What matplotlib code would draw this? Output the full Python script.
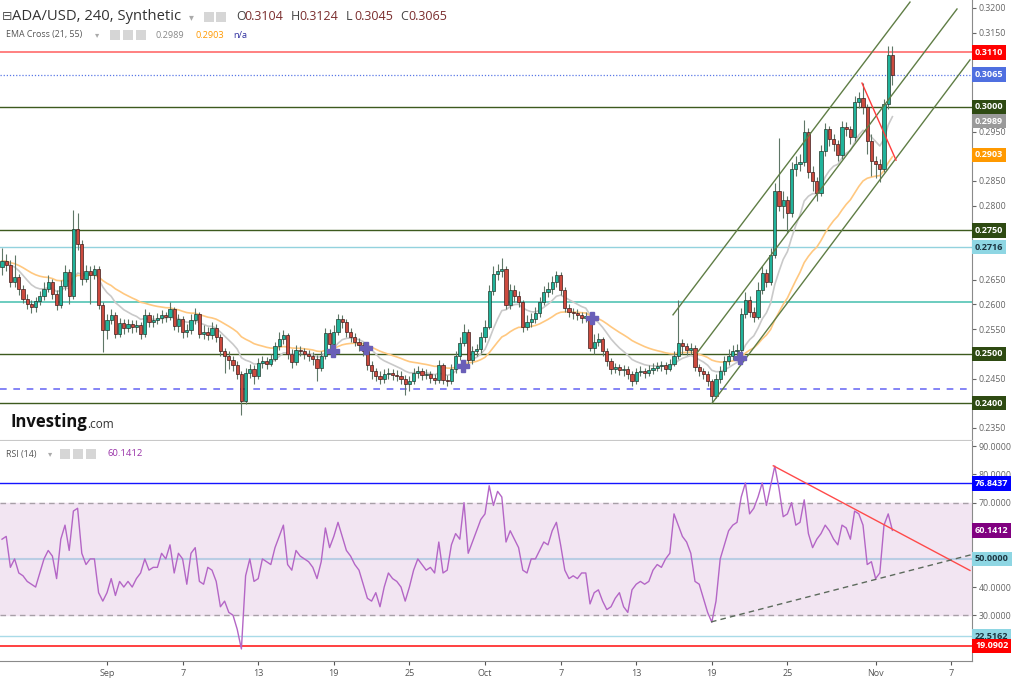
import numpy as np
import pandas as pd
import matplotlib
matplotlib.use('Agg')
import matplotlib.pyplot as plt
import matplotlib.transforms as mtransforms
from matplotlib.patches import Rectangle

plt.rcParams['font.family'] = ['Open Sans', 'DejaVu Sans']

# ---- data (8h candles, x = days from Sep 1) ----
first_open = 0.2675
closes = [0.2688, 0.2680, 0.2645, 0.2655, 0.2632, 0.2612, 0.2600, 0.2594, 0.2606, 0.2618,
          0.2632, 0.2645, 0.2622, 0.2598, 0.2638, 0.2665, 0.2618, 0.2752, 0.2722, 0.2652,
          0.2668, 0.2660, 0.2672, 0.2598, 0.2548, 0.2568, 0.2578, 0.2540, 0.2562, 0.2552,
          0.2560, 0.2555, 0.2558, 0.2540, 0.2578, 0.2565, 0.2568, 0.2572, 0.2578, 0.2575,
          0.2590, 0.2556, 0.2570, 0.2545, 0.2548, 0.2568, 0.2580, 0.2540, 0.2545, 0.2538,
          0.2552, 0.2535, 0.2505, 0.2495, 0.2488, 0.2478, 0.2460, 0.2405, 0.2462, 0.2470,
          0.2455, 0.2482, 0.2486, 0.2480, 0.2490, 0.2515, 0.2530, 0.2538, 0.2500, 0.2484,
          0.2508, 0.2505, 0.2500, 0.2495, 0.2490, 0.2472, 0.2495, 0.2542, 0.2520, 0.2545,
          0.2570, 0.2565, 0.2545, 0.2535, 0.2525, 0.2518, 0.2505, 0.2478, 0.2465, 0.2455,
          0.2450, 0.2460, 0.2462, 0.2458, 0.2455, 0.2450, 0.2440, 0.2445, 0.2462, 0.2465,
          0.2458, 0.2460, 0.2452, 0.2448, 0.2478, 0.2448, 0.2445, 0.2470, 0.2495, 0.2522,
          0.2545, 0.2488, 0.2505, 0.2510, 0.2535, 0.2555, 0.2628, 0.2662, 0.2668, 0.2672,
          0.2598, 0.2630, 0.2618, 0.2605, 0.2555, 0.2565, 0.2570, 0.2582, 0.2605, 0.2625,
          0.2632, 0.2645, 0.2660, 0.2630, 0.2593, 0.2585, 0.2582, 0.2578, 0.2572, 0.2576,
          0.2512, 0.2525, 0.2530, 0.2505, 0.2485, 0.2470, 0.2473, 0.2468, 0.2470, 0.2460,
          0.2445, 0.2463, 0.2465, 0.2462, 0.2468, 0.2472, 0.2475, 0.2478, 0.2470, 0.2480,
          0.2495, 0.2522, 0.2515, 0.2508, 0.2512, 0.2473, 0.2465, 0.2460, 0.2445, 0.2415,
          0.2450, 0.2465, 0.2485, 0.2495, 0.2505, 0.2508, 0.2580, 0.2610, 0.2585, 0.2575,
          0.2630, 0.2664, 0.2645, 0.2700, 0.2830, 0.2800, 0.2812, 0.2785, 0.2875, 0.2885,
          0.2888, 0.2950, 0.2868, 0.2850, 0.2826, 0.2910, 0.2955, 0.2935, 0.2925, 0.2902,
          0.2960, 0.2955, 0.2938, 0.3010, 0.3018, 0.3000, 0.2930, 0.2890, 0.2885, 0.2875,
          0.3005, 0.3104, 0.3065]
highs = [0.2715, 0.2702, 0.2690, 0.2700, 0.2662, 0.2640, 0.2622, 0.2610, 0.2615, 0.2628,
         0.2645, 0.2660, 0.2652, 0.2630, 0.2650, 0.2680, 0.2672, 0.2791, 0.2785, 0.2730,
         0.2680, 0.2678, 0.2680, 0.2678, 0.2605, 0.2580, 0.2590, 0.2584, 0.2572, 0.2570,
         0.2570, 0.2568, 0.2568, 0.2565, 0.2590, 0.2585, 0.2578, 0.2582, 0.2588, 0.2585,
         0.2604, 0.2595, 0.2580, 0.2576, 0.2560, 0.2580, 0.2592, 0.2585, 0.2558, 0.2555,
         0.2565, 0.2560, 0.2540, 0.2512, 0.2505, 0.2495, 0.2485, 0.2465, 0.2472, 0.2480,
         0.2478, 0.2492, 0.2496, 0.2494, 0.2500, 0.2525, 0.2545, 0.2548, 0.2542, 0.2510,
         0.2518, 0.2516, 0.2512, 0.2508, 0.2504, 0.2498, 0.2505, 0.2552, 0.2550, 0.2558,
         0.2580, 0.2578, 0.2570, 0.2552, 0.2542, 0.2532, 0.2525, 0.2510, 0.2485, 0.2472,
         0.2465, 0.2470, 0.2472, 0.2470, 0.2468, 0.2465, 0.2458, 0.2455, 0.2472, 0.2475,
         0.2472, 0.2470, 0.2466, 0.2460, 0.2488, 0.2482, 0.2458, 0.2480, 0.2505, 0.2535,
         0.2560, 0.2550, 0.2515, 0.2520, 0.2545, 0.2568, 0.2640, 0.2678, 0.2682, 0.2694,
         0.2678, 0.2642, 0.2640, 0.2628, 0.2610, 0.2578, 0.2582, 0.2595, 0.2615, 0.2638,
         0.2645, 0.2658, 0.2668, 0.2665, 0.2636, 0.2600, 0.2592, 0.2590, 0.2585, 0.2585,
         0.2580, 0.2540, 0.2542, 0.2535, 0.2512, 0.2492, 0.2482, 0.2480, 0.2478, 0.2475,
         0.2465, 0.2472, 0.2475, 0.2472, 0.2478, 0.2482, 0.2484, 0.2486, 0.2484, 0.2490,
         0.2505, 0.2610, 0.2530, 0.2522, 0.2522, 0.2518, 0.2480, 0.2472, 0.2465, 0.2450,
         0.2460, 0.2475, 0.2495, 0.2510, 0.2518, 0.2520, 0.2592, 0.2625, 0.2618, 0.2595,
         0.2645, 0.2678, 0.2672, 0.2715, 0.2845, 0.2937, 0.2830, 0.2820, 0.2888, 0.2900,
         0.2905, 0.2973, 0.2958, 0.2880, 0.2858, 0.2922, 0.2968, 0.2962, 0.2945, 0.2932,
         0.2972, 0.2970, 0.2962, 0.3022, 0.3030, 0.3048, 0.3005, 0.2945, 0.2900, 0.2895,
         0.3015, 0.3124, 0.3124]
lows = [0.2660, 0.2668, 0.2635, 0.2636, 0.2620, 0.2602, 0.2590, 0.2582, 0.2585, 0.2598,
        0.2610, 0.2625, 0.2612, 0.2588, 0.2592, 0.2630, 0.2600, 0.2612, 0.2710, 0.2640,
        0.2645, 0.2600, 0.2652, 0.2590, 0.2504, 0.2530, 0.2560, 0.2532, 0.2535, 0.2540,
        0.2545, 0.2542, 0.2545, 0.2530, 0.2535, 0.2555, 0.2555, 0.2560, 0.2562, 0.2565,
        0.2568, 0.2548, 0.2545, 0.2532, 0.2535, 0.2540, 0.2560, 0.2532, 0.2530, 0.2528,
        0.2530, 0.2525, 0.2495, 0.2462, 0.2470, 0.2465, 0.2450, 0.2376, 0.2398, 0.2452,
        0.2440, 0.2450, 0.2472, 0.2470, 0.2475, 0.2485, 0.2508, 0.2520, 0.2490, 0.2472,
        0.2478, 0.2495, 0.2490, 0.2485, 0.2478, 0.2445, 0.2465, 0.2490, 0.2510, 0.2515,
        0.2538, 0.2552, 0.2535, 0.2525, 0.2515, 0.2505, 0.2495, 0.2468, 0.2450, 0.2445,
        0.2440, 0.2442, 0.2450, 0.2448, 0.2445, 0.2440, 0.2417, 0.2425, 0.2438, 0.2452,
        0.2448, 0.2450, 0.2442, 0.2438, 0.2442, 0.2438, 0.2435, 0.2440, 0.2462, 0.2488,
        0.2515, 0.2480, 0.2480, 0.2495, 0.2502, 0.2525, 0.2550, 0.2620, 0.2650, 0.2655,
        0.2590, 0.2590, 0.2605, 0.2595, 0.2545, 0.2548, 0.2555, 0.2562, 0.2575, 0.2598,
        0.2615, 0.2622, 0.2635, 0.2620, 0.2585, 0.2575, 0.2570, 0.2568, 0.2562, 0.2565,
        0.2505, 0.2500, 0.2515, 0.2495, 0.2475, 0.2460, 0.2462, 0.2458, 0.2455, 0.2450,
        0.2435, 0.2440, 0.2455, 0.2452, 0.2455, 0.2460, 0.2465, 0.2466, 0.2460, 0.2465,
        0.2475, 0.2490, 0.2500, 0.2498, 0.2500, 0.2465, 0.2455, 0.2450, 0.2435, 0.2403,
        0.2410, 0.2442, 0.2458, 0.2478, 0.2488, 0.2495, 0.2502, 0.2572, 0.2575, 0.2565,
        0.2570, 0.2622, 0.2635, 0.2640, 0.2695, 0.2790, 0.2775, 0.2745, 0.2778, 0.2860,
        0.2870, 0.2880, 0.2855, 0.2830, 0.2810, 0.2820, 0.2900, 0.2920, 0.2910, 0.2890,
        0.2895, 0.2940, 0.2925, 0.2930, 0.2998, 0.2985, 0.2905, 0.2860, 0.2855, 0.2848,
        0.2868, 0.2995, 0.3045]
rsi_vals = [57, 58, 47, 50, 45, 44, 42, 41, 40, 45,
            50, 53, 51, 43, 57, 62, 53, 67, 68, 52,
            48, 50, 50, 38, 35, 38, 43, 37, 42, 40,
            42, 40, 43, 45, 50, 46, 47, 47, 52, 50,
            55, 45, 52, 50, 41, 52, 54, 42, 41, 47,
            46, 42, 33, 35, 31, 30, 25, 18, 44, 50,
            42, 43, 50, 49, 48, 54, 58, 62, 48, 46,
            53, 51, 50, 49, 47, 43, 49, 61, 54, 58,
            63, 58, 53, 51, 48, 46, 41, 36, 35, 38,
            33, 40, 45, 43, 42, 40, 35, 40, 46, 50,
            48, 46, 47, 45, 56, 45, 46, 55, 59, 57,
            70, 52, 56, 60, 64, 66, 76, 69, 74, 72,
            56, 60, 57, 54, 46, 45, 50, 50, 53, 56,
            55, 60, 63, 55, 46, 43, 44, 43, 45, 45,
            34, 38, 39, 35, 32, 33, 36, 38, 33, 31,
            39, 41, 42, 41, 42, 46, 48, 47, 50, 52,
            66, 62, 58, 56, 52, 42, 41, 36, 31, 27.5,
            35, 50, 55, 60, 62, 63, 72, 77, 66, 68,
            72, 77, 69, 76, 83, 75, 65, 66, 70, 62,
            63, 71, 59, 54, 57, 59, 62, 60, 57, 55,
            62, 61, 57, 67, 66, 62, 48, 49, 43, 45,
            62, 66, 60.1412]

# crossover markers (day, price)
cross_days = [17.94, 20.56, 28.25, 38.49, 50.24]
cross_prices = [0.2506, 0.2512, 0.2476, 0.2573, 0.2492]

# drawn channel (day pairs, price pairs)
channel_days = [(44.92, 63.73), (46.83, 67.46), (48.02, 68.49)]
channel_prices = [(0.2579, 0.3212), (0.2502, 0.3198), (0.2400, 0.3095)]
red_line_days = (59.92, 62.62)
red_line_prices = (0.3048, 0.2892)

rsi_red_days = (52.88, 68.49)
rsi_red_vals = (83.1, 45.9)
rsi_dash_days = (47.94, 68.6)
rsi_dash_vals = (27.6, 51.5)

tick_days = [0, 6, 12, 18, 24, 30, 36, 42, 48, 54, 61, 67]
tick_names = ['Sep', '7', '13', '19', '25', 'Oct', '7', '13', '19', '25', 'Nov', '7']

W, H = 1024, 680
fig = plt.figure(figsize=(W / 100, H / 100), dpi=100, facecolor='white')


def fxy(x, y):
    return x / W, 1 - y / H


ax = fig.add_axes([0, 1 - 440 / H, 972 / W, 440 / H])
ax2 = fig.add_axes([0, 1 - 661 / H, 972 / W, 220 / H])
xmin, xmax = -8.492, 68.65

n = len(closes)
days = -8.5 + (np.arange(n) + 0.5) / 3
c = np.array(closes)
o = np.array([first_open] + closes[:-1])
hi = np.array(highs)
lo = np.array(lows)
up = c >= o

# horizontal levels
ax.axhline(0.3110, color='#ff6b6b', lw=1.2, zorder=1)
ax.axhline(0.3065, color='#5a78e6', lw=0.9, ls=(0, (1, 1.5)), zorder=1)
for lv in [0.3000, 0.2750, 0.2500, 0.2400]:
    ax.axhline(lv, color='#3d5a1e', lw=1, zorder=1)
ax.axhline(0.2716, color='#93d2de', lw=1, zorder=1)
ax.axhline(0.2604, color='#44bfae', lw=1.1, zorder=1)
ax.axhline(0.2428, color='#6f6ff5', lw=1.2, ls=(0, (4, 4)), zorder=1)

# EMAs
ema_fast = pd.Series(closes).ewm(span=11, adjust=False).mean()
ema_slow = pd.Series(closes).ewm(span=28, adjust=False).mean()
ax.plot(days, ema_fast, color='#c9c9c9', lw=1.2, zorder=2)
ax.plot(days, ema_slow, color='#ffc880', lw=1.2, zorder=2)

# candles
ax.vlines(days, lo, hi, color='#5f7767', lw=0.8, zorder=3)
ax.bar(days[up], (c - o)[up], bottom=o[up], width=0.24, color='#20b39b',
       edgecolor='#26392c', lw=0.5, zorder=4)
ax.bar(days[~up], (c - o)[~up], bottom=o[~up], width=0.24, color='#cc4a3e',
       edgecolor='#3d1c1c', lw=0.5, zorder=4)

# drawings
for d, p in zip(channel_days, channel_prices):
    ax.plot(d, p, color='#5f7d45', lw=1, zorder=5)
ax.plot(red_line_days, red_line_prices, color='#ff3b3b', lw=1, zorder=5)
ax.plot(cross_days, cross_prices, ls='none', marker='P', ms=8, color='#6a5fb8',
        mec='#6a5fb8', zorder=6)

price_labels = [(0.3110, '#ff0000', 'white'), (0.3065, '#4f6fe0', 'white'),
                (0.3000, '#2e4a12', 'white'), (0.2989, '#9a9a9a', 'white'),
                (0.2903, '#ff9900', 'white'), (0.2750, '#2e4a12', 'white'),
                (0.2716, '#8ed6e3', '#1c3440'), (0.2500, '#2e4a12', 'white'),
                (0.2400, '#2e4a12', 'white')]
label_vals = [v for v, _, _ in price_labels]

ax.set_xlim(xmin, xmax)
ax.set_ylim(0.232567, 0.321619)
ax.set_xticks([])
ax.yaxis.tick_right()
# tick labels hidden behind the value boxes are left out
yt = [t for t in np.arange(0.235, 0.3201, 0.005)
      if min(abs(t - v) for v in label_vals) > 0.0017]
ax.set_yticks(yt)
ax.yaxis.set_major_formatter(matplotlib.ticker.FormatStrFormatter('%.4f'))
ax.tick_params(axis='y', labelsize=6.3, colors='#666', length=3, width=0.8, pad=2)
for s in ['top', 'left']:
    ax.spines[s].set_visible(False)
ax.spines['right'].set_color('#8a8a8a')
ax.spines['bottom'].set_color('#c8c8c8')

trans = mtransforms.blended_transform_factory(ax.transAxes, ax.transData)
for val, bg, fg in price_labels:
    # the EMA21 box is pushed below the 0.3000 box, as the platform stacks them
    shift = -9 if val == 0.2989 else 0
    tr = mtransforms.offset_copy(trans, fig=fig, y=shift, units='dots')
    ax.text(1.0 + 3 / 972, val, '%.4f' % val, transform=tr, ha='left', va='center',
            fontsize=6.5, fontweight='bold', color=fg, clip_on=False, zorder=10,
            bbox=dict(boxstyle='square,pad=0.3', fc=bg, ec='none'))

# ---- RSI panel ----
ax2.axhspan(30, 70, color='#f2e5f2', zorder=0)
ax2.axhline(76.8437, color='#1414ff', lw=1, zorder=1)
ax2.axhline(70, color='#a79fa7', lw=1, ls=(0, (4, 3)), zorder=1)
ax2.axhline(50, color='#b9cde4', lw=1.5, zorder=1)
ax2.axhline(30, color='#a79fa7', lw=1, ls=(0, (4, 3)), zorder=1)
ax2.axhline(22.5162, color='#a9dbe8', lw=1, zorder=1)
ax2.axhline(19.0902, color='#ff2020', lw=1.2, zorder=1)
ax2.plot(days, rsi_vals, color='#b466c6', lw=1, zorder=3)
ax2.plot(rsi_red_days, rsi_red_vals, color='#ff4a4a', lw=1, zorder=4)
ax2.plot(rsi_dash_days, rsi_dash_vals, color='#5c6a5c', lw=1, ls=(0, (4, 3)), zorder=4)

rsi_labels = [(76.8437, '#0000ff', 'white'), (60.1412, '#800080', 'white'),
              (50.0, '#8ed6e3', '#1c3440'), (22.5162, '#8ed6e3', '#1c3440'),
              (19.0902, '#ff0000', 'white')]
rsi_label_vals = [v for v, _, _ in rsi_labels]

ax2.set_xlim(xmin, xmax)
ax2.set_ylim(13.72, 91.9)
ax2.yaxis.tick_right()
ax2.set_yticks([t for t in [30, 40, 50, 60, 70, 80, 90]
                if min(abs(t - v) for v in rsi_label_vals) > 3.0])
ax2.yaxis.set_major_formatter(matplotlib.ticker.FormatStrFormatter('%.4f'))
ax2.tick_params(axis='y', labelsize=6.3, colors='#666', length=3, width=0.8, pad=2)
ax2.set_xticks(tick_days)
ax2.set_xticklabels(tick_names)
ax2.tick_params(axis='x', labelsize=6.5, colors='#555', length=3, width=0.8, pad=3)
for s in ['top', 'left']:
    ax2.spines[s].set_visible(False)
ax2.spines['right'].set_color('#8a8a8a')
ax2.spines['bottom'].set_color('#8a8a8a')

trans2 = mtransforms.blended_transform_factory(ax2.transAxes, ax2.transData)
for val, bg, fg in rsi_labels:
    ax2.text(1.0 + 3 / 972, val, '%.4f' % val, transform=trans2, ha='left', va='center',
             fontsize=6.5, fontweight='bold', color=fg, clip_on=False, zorder=10,
             bbox=dict(boxstyle='square,pad=0.3', fc=bg, ec='none'))

# ---- header texts ----
def icon(x, y):
    x0, y0 = fxy(x, y + 5)
    fig.patches.append(Rectangle((x0, y0), 10 / W, 10 / H, transform=fig.transFigure,
                                 fc='#d6d6d6', ec='none'))


fig.text(*fxy(2, 17), '\u229f', fontsize=9, color='#555', va='center',
         family=['DejaVu Sans'])
fig.text(*fxy(12, 17), 'ADA/USD, 240, Synthetic', fontsize=10.6, color='#333', va='center')
fig.text(*fxy(189, 17), '\u25be', fontsize=7, color='#aaa', va='center', family=['DejaVu Sans'])
for xi in [204, 216]:
    icon(xi, 17)
ohlc = [('O', '0.3104', 236), ('H', '0.3124', 291), ('L', '0.3045', 346), ('C', '0.3065', 400)]
for letter, num, xi in ohlc:
    fig.text(*fxy(xi, 17), letter, fontsize=9, color='#444', va='center')
    fig.text(*fxy(xi + 8, 17), num, fontsize=9, color='#7a2d2d', va='center')

fig.text(*fxy(6, 35), 'EMA Cross (21, 55)', fontsize=6.4, color='#555', va='center')
fig.text(*fxy(95, 35), '\u25be', fontsize=6, color='#aaa', va='center', family=['DejaVu Sans'])
for xi in [110, 123, 136]:
    icon(xi, 35)
fig.text(*fxy(155, 35), '0.2989', fontsize=6.6, color='#888', va='center')
fig.text(*fxy(195, 35), '0.2903', fontsize=6.6, color='#ff9900', va='center')
fig.text(*fxy(233, 35), 'n/a', fontsize=6.6, color='#3030a0', va='center')

fig.text(*fxy(6, 454), 'RSI (14)', fontsize=6.4, color='#555', va='center')
fig.text(*fxy(48, 454), '\u25be', fontsize=6, color='#aaa', va='center', family=['DejaVu Sans'])
for xi in [60, 73, 86]:
    icon(xi, 454)
fig.text(*fxy(107, 454), '60.1412', fontsize=6.8, color='#9932a8', va='center')

# logo
fig.text(*fxy(10, 422), 'Investing', fontsize=12, fontweight='bold', color='#111', va='center')
fig.text(*fxy(87, 424), '.com', fontsize=8.5, color='#333', va='center')

fig.savefig('out.png', dpi=100, facecolor='white')
